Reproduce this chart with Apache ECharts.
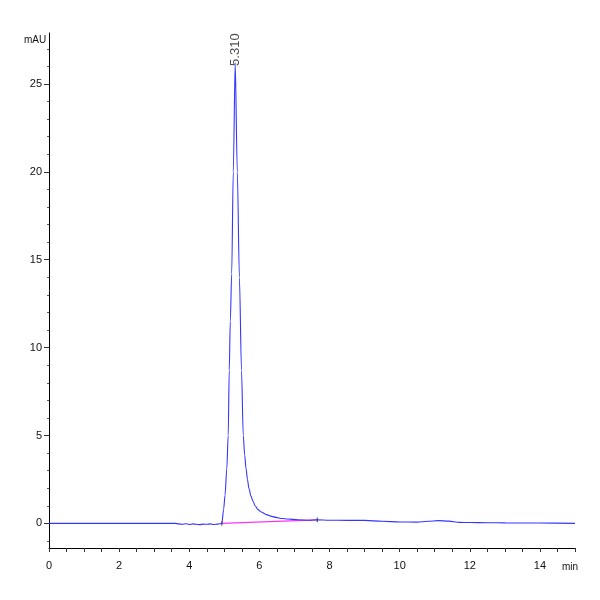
<!DOCTYPE html>
<html>
<head>
<meta charset="utf-8">
<script src="https://cdn.jsdelivr.net/npm/echarts@6/dist/echarts.min.js"></script>
<style>
html,body{margin:0;padding:0;background:#fff;}
#chart{width:600px;height:600px;}
</style>
</head>
<body>
<div id="chart"></div>
<script>
// Retention time (min) and absorbance (mAU)
const timeMin = [0, 1, 2, 3, 3.6, 3.7, 3.8, 3.9, 4.0, 4.1, 4.2, 4.3, 4.4, 4.5, 4.6, 4.7, 4.8, 4.88, 4.93,
  4.98, 5.02, 5.07, 5.11, 5.14, 5.17, 5.21, 5.255, 5.31, 5.37, 5.43, 5.49, 5.54, 5.58, 5.62, 5.66, 5.70,
  5.76, 5.82, 5.88, 5.95, 6.05, 6.2, 6.35, 6.47, 6.65, 6.8, 7.1, 7.41, 7.65, 8.0, 8.5, 9.0, 9.5, 10.0,
  10.5, 10.8, 11.1, 11.4, 11.7, 12.0, 12.5, 13.0, 14.0, 15.0];
const signalMAU = [0, 0, 0, 0, 0, -0.03, -0.05, -0.02, -0.06, -0.03, -0.05, -0.07, -0.04, -0.05, -0.03, -0.06, -0.04, -0.02, 0.0,
  0.8, 1.6, 3.1, 5.0, 8.7, 11.5, 14.2, 20.0, 26.2, 20.0, 14.0, 8.7, 5.0, 3.9, 3.1, 2.5, 2.0,
  1.55, 1.25, 1.0, 0.8, 0.65, 0.5, 0.4, 0.34, 0.28, 0.25, 0.21, 0.18, 0.2, 0.18, 0.17, 0.17, 0.12, 0.08,
  0.07, 0.12, 0.16, 0.13, 0.06, 0.05, 0.04, 0.03, 0.02, 0.0];
// integration baseline (start / end of the peak)
const baselineTime = [4.93, 7.65];
const baselineMAU = [0.0, 0.2];
// peak annotation
const peakTime = 5.31;
const peakHeight = 26.2;
const peakLabel = '5.310';
// axis ticks
const yMajorTicks = [0, 5, 10, 15, 20, 25];
const yMinorTicks = [-1, 1, 2, 3, 4, 6, 7, 8, 9, 11, 12, 13, 14, 16, 17, 18, 19, 21, 22, 23, 24, 26, 27];
const xLabelTicks = [0, 2, 4, 6, 8, 10, 12, 14];

const trace = timeMin.map((t, i) => [t, signalMAU[i]]);
const baseline = baselineTime.map((t, i) => [t, baselineMAU[i]]);
const markerLen = 0.13;
const startMarker = [[baselineTime[0], baselineMAU[0] + markerLen], [baselineTime[0], baselineMAU[0] - markerLen]];
const endMarker = [[baselineTime[1], baselineMAU[1] + markerLen], [baselineTime[1], baselineMAU[1] - markerLen]];

const FONT = 'Liberation Sans, Arial, sans-serif';
const chart = echarts.init(document.getElementById('chart'));
chart.setOption({
  animation: false,
  backgroundColor: '#ffffff',
  grid: { left: 49, right: 25, top: 33, bottom: 52 },
  xAxis: {
    type: 'value', min: 0, max: 15, interval: 0.5,
    axisLine: { show: true, onZero: false, lineStyle: { color: '#000', width: 1 } },
    axisTick: { show: true, length: 4, lineStyle: { color: '#333' } },
    axisLabel: { customValues: xLabelTicks, color: '#111', fontSize: 11, fontFamily: FONT, margin: 12 },
    splitLine: { show: false }
  },
  yAxis: [{
    type: 'value', min: -1.4, max: 27.9,
    axisLine: { show: true, onZero: false, lineStyle: { color: '#000', width: 1 } },
    axisTick: { show: true, customValues: yMajorTicks, length: 5, lineStyle: { color: '#333' } },
    axisLabel: { customValues: yMajorTicks, color: '#111', fontSize: 11, fontFamily: FONT, margin: 7 },
    splitLine: { show: false }
  }, {
    type: 'value', min: -1.4, max: 27.9, position: 'left', offset: 0,
    axisLine: { show: false, onZero: false },
    axisTick: { show: true, customValues: yMinorTicks, length: 2, lineStyle: { color: '#555' } },
    axisLabel: { show: false },
    splitLine: { show: false }
  }],
  series: [{
    type: 'line', data: baseline, symbol: 'none',
    lineStyle: { color: '#ff33ff', width: 1.2 }, z: 2
  }, {
    type: 'line', data: startMarker, symbol: 'none',
    lineStyle: { color: '#333', width: 1 }, z: 2
  }, {
    type: 'line', data: endMarker, symbol: 'none',
    lineStyle: { color: '#333', width: 1 }, z: 2
  }, {
    type: 'line', data: trace, symbol: 'none', smooth: 0.3, smoothMonotone: 'x',
    lineStyle: { color: '#3535ff', width: 1.1 }, z: 3
  }, {
    type: 'scatter', data: [[peakTime, peakHeight]], symbolSize: 0, z: 4,
    label: {
      show: true, formatter: peakLabel, position: 'top', distance: -3, rotate: 90,
      align: 'left', verticalAlign: 'middle',
      color: '#222', fontSize: 13, fontFamily: FONT
    }
  }],
  graphic: [
    { type: 'text', left: 24, top: 35, style: { text: 'mAU', fill: '#111', font: '10px ' + FONT } },
    { type: 'text', left: 562, top: 562, style: { text: 'min', fill: '#111', font: '10px ' + FONT } }
  ]
});
</script>
</body>
</html>
